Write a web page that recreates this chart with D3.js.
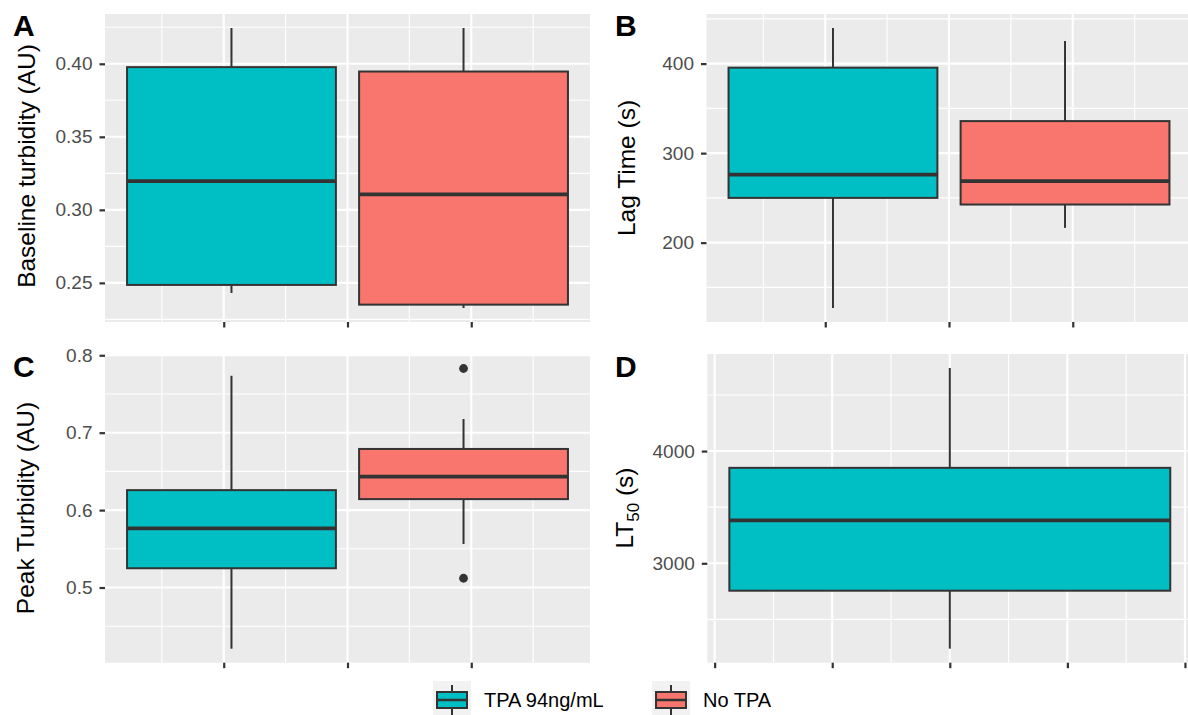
<!DOCTYPE html>
<html>
<head>
<meta charset="utf-8">
<script src="https://cdn.jsdelivr.net/npm/d3@7"></script>
<style>
  html, body { margin: 0; padding: 0; background: #ffffff; }
  svg { display: block; font-family: "Liberation Sans", Arial, Helvetica, sans-serif; }
</style>
</head>
<body>
<svg id="chart" width="1188" height="715"></svg>
<script>
// ---------------- DATA ----------------
const groups = ["TPA 94ng/mL", "No TPA"];
// five-number summaries per group: [lower whisker, Q1, median, Q3, upper whisker]
const baselineStats = [[0.2431, 0.2486, 0.3197, 0.3977, 0.4245], [0.2328, 0.2351, 0.3106, 0.3947, 0.4245]];
const lagStats      = [[127, 250, 276, 395.5, 439.8], [216.5, 242.6, 268.7, 335.8, 425.3]];
const peakStats     = [[0.421, 0.5249, 0.5763, 0.6258, 0.7735], [0.5562, 0.6142, 0.6433, 0.679, 0.7177]];
const peakOutliers  = [[], [0.7829, 0.512]];
const lt50Stats     = [[2239, 2755.6, 3382, 3850.5, 4740]];
const lt50Groups    = ["TPA 94ng/mL"];

const baselineTicks = [0.25, 0.30, 0.35, 0.40];
const lagTicks      = [200, 300, 400];
const peakTicks     = [0.5, 0.6, 0.7, 0.8];
const lt50Ticks     = [3000, 4000];

const panelTags = ["A", "B", "C", "D"];
const yTitles   = ["Baseline turbidity (AU)", "Lag Time (s)", "Peak Turbidity (AU)", "LT50 (s)"];

// ---------------- STYLE ----------------
const groupColors = { "TPA 94ng/mL": "#00BFC4", "No TPA": "#F8766D" };
const panelBg = "#EBEBEB";
const ink = "#333333";

const svg = d3.select("#chart");

const panels = [
  { tag: panelTags[0], stats: baselineStats, outliers: [[], []], groups: groups, ticks: baselineTicks, fmt: d3.format(".2f"),
    box: { x0: 105, x1: 590, y0: 14, y1: 322 }, title: yTitles[0], titleX: 35, titleY: 166, tagX: 13, tagY: 36 },
  { tag: panelTags[1], stats: lagStats, outliers: [[], []], groups: groups, ticks: lagTicks, fmt: d3.format("d"),
    box: { x0: 706.5, x1: 1191.5, y0: 14, y1: 322 }, title: yTitles[1], titleX: 635, titleY: 168, tagX: 615, tagY: 36 },
  { tag: panelTags[2], stats: peakStats, outliers: peakOutliers, groups: groups, ticks: peakTicks, fmt: d3.format(".1f"),
    box: { x0: 105, x1: 590, y0: 354.5, y1: 662.7 }, title: yTitles[2], titleX: 33.5, titleY: 508, tagX: 13, tagY: 377 },
  { tag: panelTags[3], stats: lt50Stats, outliers: [[]], groups: lt50Groups, ticks: lt50Ticks, fmt: d3.format("d"),
    box: { x0: 707.3, x1: 1192.3, y0: 354, y1: 662.7 }, title: yTitles[3], titleX: 633, titleY: 508, tagX: 615, tagY: 377, sub: true }
];

panels.forEach(p => {
  const b = p.box;
  const n = p.groups.length;
  // continuous x like ggplot: dodged boxes around 0, total width 0.75
  const dodgeW = 0.75 / n;
  const boxW = n > 1 ? dodgeW * 0.9 : 0.75;
  const centers = p.groups.map((g, i) => (i - (n - 1) / 2) * dodgeW);
  const xMax = d3.max(centers) + boxW / 2;
  const xMin = d3.min(centers) - boxW / 2;
  const xPad = (xMax - xMin) * 0.05;
  const x = d3.scaleLinear().domain([xMin - xPad, xMax + xPad]).range([b.x0, b.x1]);

  const allVals = p.stats.flat().concat(p.outliers.flat());
  const yLo = d3.min(allVals), yHi = d3.max(allVals);
  const yPad = (yHi - yLo) * 0.05;
  const y = d3.scaleLinear().domain([yLo - yPad, yHi + yPad]).range([b.y1, b.y0]);

  const g = svg.append("g");
  g.append("rect").attr("x", b.x0).attr("y", b.y0).attr("width", b.x1 - b.x0).attr("height", b.y1 - b.y0).attr("fill", panelBg);

  // y gridlines
  const step = p.ticks[1] - p.ticks[0];
  const minorY = [];
  for (let v = p.ticks[0] - step / 2; v <= y.domain()[1]; v += step) {
    if (v >= y.domain()[0]) minorY.push(v);
  }
  g.selectAll(".ymin").data(minorY).join("line")
    .attr("x1", b.x0).attr("x2", b.x1).attr("y1", d => y(d)).attr("y2", d => y(d))
    .attr("stroke", "#fff").attr("stroke-width", 1.1);
  g.selectAll(".ymaj").data(p.ticks.filter(v => y(v) >= b.y0 - 0.5)).join("line")
    .attr("x1", b.x0).attr("x2", b.x1).attr("y1", d => y(d)).attr("y2", d => y(d))
    .attr("stroke", "#fff").attr("stroke-width", 2.1);

  // x gridlines (continuous, unlabeled)
  const xMajorTicks = d3.range(-0.4, 0.41, 0.2).map(v => +v.toFixed(1)).filter(v => v >= x.domain()[0] && v <= x.domain()[1]);
  const xMinorTicks = d3.range(-0.3, 0.31, 0.2).map(v => +v.toFixed(1)).filter(v => v >= x.domain()[0] && v <= x.domain()[1]);
  g.selectAll(".xmin").data(xMinorTicks).join("line")
    .attr("x1", d => x(d)).attr("x2", d => x(d)).attr("y1", b.y0).attr("y2", b.y1)
    .attr("stroke", "#fff").attr("stroke-width", 1.1);
  g.selectAll(".xmaj").data(xMajorTicks).join("line")
    .attr("x1", d => x(d)).attr("x2", d => x(d)).attr("y1", b.y0).attr("y2", b.y1)
    .attr("stroke", "#fff").attr("stroke-width", 2.1);

  // boxes
  p.groups.forEach((grp, i) => {
    const s = p.stats[i];
    const cx = x(centers[i]);
    const left = x(centers[i] - boxW / 2), right = x(centers[i] + boxW / 2);
    g.append("line").attr("x1", cx).attr("x2", cx).attr("y1", y(s[4])).attr("y2", y(s[3]))
      .attr("stroke", ink).attr("stroke-width", 2);
    g.append("line").attr("x1", cx).attr("x2", cx).attr("y1", y(s[1])).attr("y2", y(s[0]))
      .attr("stroke", ink).attr("stroke-width", 2);
    g.append("rect").attr("x", left).attr("y", y(s[3])).attr("width", right - left).attr("height", y(s[1]) - y(s[3]))
      .attr("fill", groupColors[grp]).attr("stroke", ink).attr("stroke-width", 2);
    g.append("line").attr("x1", left).attr("x2", right).attr("y1", y(s[2])).attr("y2", y(s[2]))
      .attr("stroke", ink).attr("stroke-width", 3.8);
    g.selectAll(null).data(p.outliers[i] || []).join("circle")
      .attr("cx", cx).attr("cy", d => y(d)).attr("r", 4.4).attr("fill", ink);
  });

  // y axis ticks & labels
  const yAxis = d3.axisLeft(y).tickValues(p.ticks).tickSize(5.5).tickPadding(7).tickFormat(p.fmt);
  const ya = g.append("g").attr("transform", `translate(${b.x0},0)`).call(yAxis);
  ya.select(".domain").remove();
  ya.selectAll(".tick line").attr("stroke", ink).attr("stroke-width", 2.2);
  ya.selectAll(".tick text").attr("fill", "#4D4D4D").style("font-size", "19px")
    .style("font-family", "'Liberation Sans', Arial, sans-serif");

  // x axis ticks (no labels)
  const xAxis = d3.axisBottom(x).tickValues(xMajorTicks).tickSize(5.5).tickFormat("");
  const xa = g.append("g").attr("transform", `translate(0,${b.y1})`).call(xAxis);
  xa.select(".domain").remove();
  xa.selectAll(".tick line").attr("stroke", ink).attr("stroke-width", 2.2);

  // y title
  const t = svg.append("text")
    .attr("transform", `translate(${p.titleX},${p.titleY}) rotate(-90)`)
    .attr("text-anchor", "middle").attr("fill", "#000").style("font-size", "24.5px");
  if (p.sub) {
    t.append("tspan").text("LT");
    t.append("tspan").text("50").style("font-size", "17px").attr("dy", 6);
    t.append("tspan").text(" (s)").attr("dy", -6);
  } else {
    t.text(p.title);
  }

  // tag
  svg.append("text").attr("x", p.tagX).attr("y", p.tagY).text(p.tag)
    .attr("fill", "#000").style("font-size", "30px").style("font-weight", "bold");
});

// ---------------- LEGEND ----------------
const legendX = [433, 652];
const lg = svg.append("g");
groups.forEach((grp, i) => {
  const kx = legendX[i], ky = 681, kw = 38, kh = 38;
  lg.append("rect").attr("x", kx).attr("y", ky).attr("width", kw).attr("height", kh).attr("fill", "#F2F2F2");
  const cx = kx + kw / 2;
  lg.append("line").attr("x1", cx).attr("x2", cx).attr("y1", ky + 4).attr("y2", ky + 11).attr("stroke", ink).attr("stroke-width", 2);
  lg.append("line").attr("x1", cx).attr("x2", cx).attr("y1", ky + 27).attr("y2", ky + 34).attr("stroke", ink).attr("stroke-width", 2);
  lg.append("rect").attr("x", kx + 4).attr("y", ky + 11).attr("width", kw - 8).attr("height", 16)
    .attr("fill", groupColors[grp]).attr("stroke", ink).attr("stroke-width", 2);
  lg.append("line").attr("x1", kx + 4).attr("x2", kx + kw - 4).attr("y1", ky + 19).attr("y2", ky + 19)
    .attr("stroke", ink).attr("stroke-width", 2.5);
  lg.append("text").attr("x", kx + kw + 13).attr("y", ky + 26).text(grp)
    .attr("fill", "#000").style("font-size", "20px");
});
</script>
</body>
</html>
